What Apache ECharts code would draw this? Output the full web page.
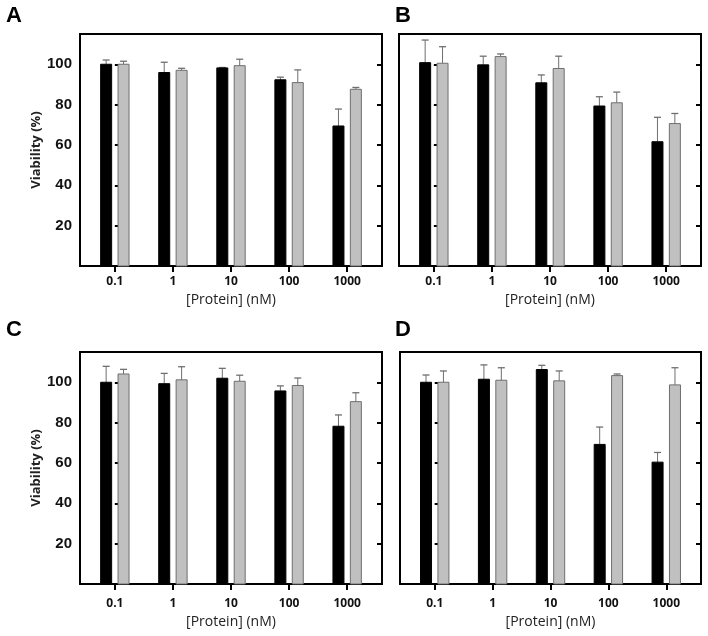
<!DOCTYPE html>
<html>
<head>
<meta charset="utf-8">
<script src="https://cdn.jsdelivr.net/npm/echarts@6/dist/echarts.min.js"></script>
<style>
  html, body { margin: 0; padding: 0; background: #fff; }
  #chart { width: 708px; height: 636px; }
</style>
</head>
<body>
<div id="chart"></div>
<script>
// ---- data ----
const categories = ['0.1', '1', '10', '100', '1000'];
const yTicks = [20, 40, 60, 80, 100];
const panelLetters = ['A', 'B', 'C', 'D'];

const blackA = [100, 95.9, 98.2, 92.3, 69.4];
const blackAErr = [2.1, 5.1, 0.2, 1.3, 8.4];
const grayA = [100, 97.0, 99.3, 90.9, 87.6];
const grayAErr = [1.5, 1.0, 3.2, 6.3, 0.9];

const blackB = [100.8, 99.7, 90.8, 79.3, 61.6];
const blackBErr = [11.2, 4.3, 3.9, 4.6, 12.1];
const grayB = [100.5, 103.8, 97.9, 80.9, 70.6];
const grayBErr = [8.2, 1.3, 6.1, 5.3, 5.0];

const blackC = [100, 99.3, 102.0, 95.7, 78.2];
const blackCErr = [7.9, 5.1, 4.9, 2.5, 5.6];
const grayC = [104.1, 101.2, 100.5, 98.4, 90.4];
const grayCErr = [2.3, 6.5, 3.0, 3.7, 4.4];

const blackD = [100, 101.5, 106.3, 69.2, 60.4];
const blackDErr = [3.6, 7.1, 2.1, 8.6, 4.8];
const grayD = [100, 101.0, 100.7, 103.3, 98.7];
const grayDErr = [5.6, 6.2, 4.9, 0.8, 8.5];

// ---- layout ----
const panels = [
  { black: blackA, blackErr: blackAErr, gray: grayA, grayErr: grayAErr, left: 80,  top: 34,  width: 302, showY: true,  letterX: 6,   letterY: 5,   labelMargin: 10, nameGap: 27 },
  { black: blackB, blackErr: blackBErr, gray: grayB, grayErr: grayBErr, left: 399, top: 34,  width: 302, showY: false, letterX: 395, letterY: 5,   labelMargin: 10, nameGap: 27 },
  { black: blackC, blackErr: blackCErr, gray: grayC, grayErr: grayCErr, left: 80,  top: 352, width: 302, showY: true,  letterX: 6,   letterY: 319, labelMargin: 14, nameGap: 31 },
  { black: blackD, blackErr: blackDErr, gray: grayD, grayErr: grayDErr, left: 400, top: 352, width: 301, showY: false, letterX: 395, letterY: 319, labelMargin: 14, nameGap: 31 }
];

function makeRender(offset, fill, stroke) {
  return function (params, api) {
    const x = api.value(0), v = api.value(1), e = api.value(2);
    const p0 = api.coord([x, 0]);
    const p1 = api.coord([x, v]);
    const p2 = api.coord([x, v + e]);
    const cx = p0[0] + offset;
    const w = 11;
    return {
      type: 'group',
      children: [
        { type: 'line', shape: { x1: cx, y1: p1[1], x2: cx, y2: p2[1] }, style: { stroke: '#6f6f6f', lineWidth: 1 } },
        { type: 'line', shape: { x1: cx - 3.5, y1: p2[1], x2: cx + 3.5, y2: p2[1] }, style: { stroke: '#6f6f6f', lineWidth: 1.3 } },
        { type: 'rect', shape: { x: cx - w / 2, y: p1[1], width: w, height: p0[1] - p1[1] }, style: { fill: fill, stroke: stroke, lineWidth: 1 } }
      ]
    };
  };
}

const grid = [], xAxis = [], yAxis = [], series = [], title = [];
panels.forEach((p, g) => {
  grid.push({ left: p.left, top: p.top, width: p.width, height: 232, show: true, borderColor: '#000', borderWidth: 2, backgroundColor: 'transparent', containLabel: false });
  title.push({ text: panelLetters[g], left: p.letterX, top: p.letterY, padding: 0, textStyle: { fontFamily: 'Liberation Sans', fontWeight: 'bold', fontSize: 22, color: '#000' } });
  xAxis.push({
    type: 'value', gridIndex: g, min: -0.6, max: 4.6,
    name: '[Protein] (nM)', nameLocation: 'middle', nameGap: p.nameGap,
    nameTextStyle: { fontFamily: 'Open Sans', fontSize: 14, color: '#222' },
    axisLine: { show: false },
    splitLine: { show: false },
    axisTick: { show: true, inside: false, length: 6, lineStyle: { color: '#000', width: 2 }, customValues: [0, 1, 2, 3, 4] },
    axisLabel: { show: true, margin: p.labelMargin, customValues: [0, 1, 2, 3, 4], formatter: v => categories[Math.round(v)] || '', fontFamily: 'Open Sans', fontWeight: 'bold', fontSize: 12, color: '#111' }
  });
  yAxis.push({
    type: 'value', gridIndex: g, position: 'left', min: 0, max: 115, interval: 20,
    name: p.showY ? 'Viability (%)' : '', nameLocation: 'middle', nameGap: 37,
    nameTextStyle: { fontFamily: 'Open Sans', fontWeight: 'bold', fontSize: 13, color: '#222' },
    axisLine: { show: false }, splitLine: { show: false },
    axisTick: { show: true, inside: true, length: 5, lineStyle: { color: '#000', width: 2 }, customValues: yTicks },
    axisLabel: { show: p.showY, margin: 8, customValues: yTicks, fontFamily: 'Liberation Sans', fontWeight: 'bold', fontSize: 15, color: '#111' }
  });
  yAxis.push({
    type: 'value', gridIndex: g, position: 'right', min: 0, max: 115, interval: 20,
    axisLine: { show: false }, splitLine: { show: false },
    axisTick: { show: true, inside: true, length: 5, lineStyle: { color: '#000', width: 2 }, customValues: yTicks },
    axisLabel: { show: false }
  });
  const blackData = p.black.map((v, i) => [i, v, p.blackErr[i]]);
  const grayData = p.gray.map((v, i) => [i, v, p.grayErr[i]]);
  series.push({ type: 'custom', xAxisIndex: g, yAxisIndex: 2 * g, data: blackData, encode: { x: 0, y: 1 }, renderItem: makeRender(-8.7, '#000', '#000'), clip: false, silent: true });
  series.push({ type: 'custom', xAxisIndex: g, yAxisIndex: 2 * g, data: grayData, encode: { x: 0, y: 1 }, renderItem: makeRender(8.7, '#c0c0c0', '#6f6f6f'), clip: false, silent: true });
});

const chart = echarts.init(document.getElementById('chart'), null, { renderer: 'canvas' });
chart.setOption({ animation: false, backgroundColor: '#fff', title, grid, xAxis, yAxis, series });
</script>
</body>
</html>
